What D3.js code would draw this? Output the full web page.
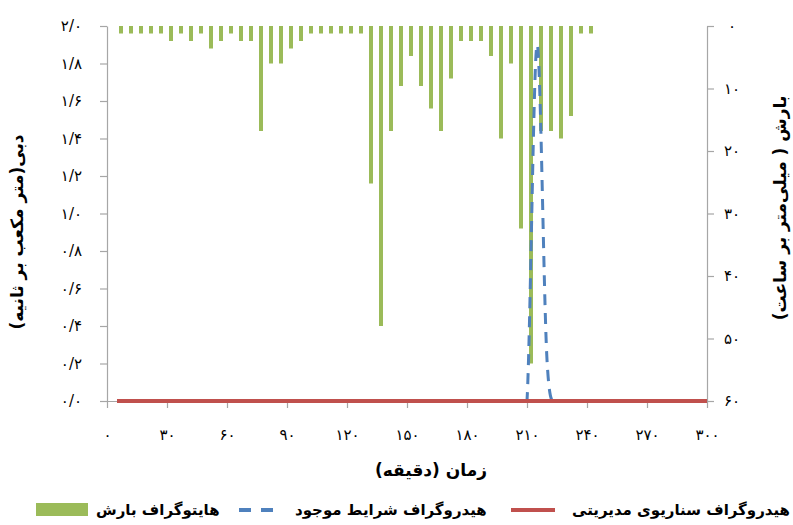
<!DOCTYPE html>
<html>
<head>
<meta charset="utf-8">
<script src="https://cdn.jsdelivr.net/npm/d3@7"></script>
<style>
  html, body { margin: 0; padding: 0; background: #fff; }
  svg { display: block; }
  text { font-family: "DejaVu Sans", sans-serif; fill: #000; }
</style>
</head>
<body>
<svg id="chart" width="793" height="525"></svg>
<script>
// Axis ticks
const flowTicks = [0, 0.2, 0.4, 0.6, 0.8, 1.0, 1.2, 1.4, 1.6, 1.8, 2.0];
const rainTicks = [0, 10, 20, 30, 40, 50, 60];
const timeTicks = [0, 30, 60, 90, 120, 150, 180, 210, 240, 270, 300];

// Rainfall hyetograph (minutes, mm/h)
const rainTime = [7, 12, 17, 22, 27, 32, 37, 42, 47, 52, 57, 62, 67, 72, 77, 82,
  87, 92, 97, 102, 107, 112, 117, 122, 127, 132, 137, 142, 147, 152, 157, 162,
  167, 172, 177, 182, 187, 192, 197, 202, 207, 212, 217, 222, 227, 232, 237, 242];
const rainIntensity = [1.2, 1.2, 1.2, 1.2, 1.2, 2.4, 1.2, 2.4, 1.2, 3.6, 2.4, 1.2,
  2.4, 2.4, 16.8, 6.0, 6.0, 3.6, 2.4, 1.2, 1.2, 1.2, 1.2, 1.2, 1.2, 25.2, 48.0, 16.8,
  9.6, 4.8, 9.6, 13.2, 16.8, 8.4, 2.4, 2.4, 2.4, 4.8, 18.0, 6.0, 32.4, 54.0, 16.8,
  16.8, 18.0, 14.4, 1.2, 1.2];

// Hydrographs (minutes, m3/s)
const hydroTime = [5, 195, 200, 205, 210, 215, 220, 225, 230, 235, 300];
const currentFlow = [0, 0, 0, 0, 0, 1.9, 0.22, 0, 0, 0, 0];
const managedFlow = [0, 0, 0, 0, 0, 0, 0, 0, 0, 0, 0];

// Labels
const legendLabels = ["هایتوگراف بارش", "هیدروگراف شرایط موجود", "هیدروگراف سناریوی مدیریتی"];
const xTitle = "زمان (دقیقه)";
const flowTitle = "دبی(متر مکعب بر ثانیه)";
const rainTitle = "بارش ( میلی‌متر بر ساعت)";

const colors = { rain: "#9bbb59", current: "#4f81bd", managed: "#c0504d", axis: "#a6a6a6" };

const faDigits = "۰۱۲۳۴۵۶۷۸۹";
const fa = s => String(s).replace(/\d/g, d => faDigits[+d]);
const fmtFlow = v => fa(d3.format(".1f")(v).replace(".", "/"));

const svg = d3.select("#chart");
const plot = { left: 107, right: 707, top: 26, bottom: 401 };

const x = d3.scaleLinear().domain([0, 300]).range([plot.left, plot.right]);
const yFlow = d3.scaleLinear().domain([0, 2]).range([plot.bottom, plot.top]);
const yRain = d3.scaleLinear().domain([0, 60]).range([plot.top, plot.bottom]);

svg.append("defs").append("clipPath").attr("id", "plotClip")
  .append("rect")
  .attr("x", plot.left).attr("y", plot.top - 20)
  .attr("width", plot.right - plot.left).attr("height", plot.bottom - plot.top + 21);

// Axes
function styleAxis(g) {
  g.selectAll("path.domain").attr("stroke", colors.axis).attr("stroke-width", 1.2);
  g.selectAll(".tick line").attr("stroke", colors.axis).attr("stroke-width", 1.2);
  g.selectAll(".tick text").attr("font-family", "DejaVu Sans").attr("font-size", 15).attr("fill", "#000");
}

const gLeft = svg.append("g").attr("transform", `translate(${plot.left},0)`)
  .call(d3.axisLeft(yFlow).tickValues(flowTicks).tickSize(7).tickSizeOuter(0)
    .tickPadding(18).tickFormat(fmtFlow));
styleAxis(gLeft);

const gRight = svg.append("g").attr("transform", `translate(${plot.right},0)`)
  .call(d3.axisRight(yRain).tickValues(rainTicks).tickSize(7).tickSizeOuter(0)
    .tickFormat(d => fa(d)));
styleAxis(gRight);
gRight.selectAll(".tick text").attr("x", 25).attr("text-anchor", "middle");

const gBottom = svg.append("g").attr("transform", `translate(0,${plot.bottom})`)
  .call(d3.axisBottom(x).tickValues(timeTicks).tickSize(7).tickSizeOuter(0)
    .tickFormat(d => fa(d)));
styleAxis(gBottom);
gBottom.selectAll(".tick text").attr("y", 34).attr("dy", "0.35em");

// Hyetograph bars hanging from the top
svg.append("g").selectAll("rect")
  .data(rainTime.map((t, i) => ({ t, v: rainIntensity[i] })))
  .join("rect")
  .attr("x", d => x(d.t) - 2)
  .attr("y", yRain(0))
  .attr("width", 4)
  .attr("height", d => yRain(d.v) - yRain(0))
  .attr("fill", colors.rain);

// Hydrographs
const current = hydroTime.map((t, i) => [t, currentFlow[i]]);
const managed = hydroTime.map((t, i) => [t, managedFlow[i]]);

svg.append("path")
  .datum(current)
  .attr("clip-path", "url(#plotClip)")
  .attr("d", d3.line().x(d => x(d[0])).y(d => yFlow(d[1])).curve(d3.curveCatmullRom.alpha(0)))
  .attr("fill", "none")
  .attr("stroke", colors.current)
  .attr("stroke-width", 3)
  .attr("stroke-dasharray", "11,8");

svg.append("path")
  .datum(managed)
  .attr("d", d3.line().x(d => x(d[0])).y(d => yFlow(d[1])))
  .attr("fill", "none")
  .attr("stroke", colors.managed)
  .attr("stroke-width", 4);

// Axis titles
svg.append("text")
  .attr("transform", "translate(23,232) rotate(-90)")
  .attr("text-anchor", "middle").attr("direction", "rtl")
  .attr("font-size", 17).attr("font-weight", "bold")
  .text(flowTitle);

svg.append("text")
  .attr("transform", "translate(786,208) rotate(-90)")
  .attr("text-anchor", "middle").attr("direction", "rtl")
  .attr("font-size", 17).attr("font-weight", "bold")
  .text(rainTitle);

svg.append("text")
  .attr("x", 431).attr("y", 476)
  .attr("text-anchor", "middle").attr("direction", "rtl")
  .attr("font-size", 17).attr("font-weight", "bold")
  .text(xTitle);

// Legend
const lg = svg.append("g").attr("font-size", 15).attr("font-weight", "bold");
lg.append("rect").attr("x", 36).attr("y", 503).attr("width", 52).attr("height", 13).attr("fill", colors.rain);
lg.append("text").attr("x", 96).attr("y", 515).text(legendLabels[0]);
lg.append("line").attr("x1", 239).attr("x2", 283).attr("y1", 510).attr("y2", 510)
  .attr("stroke", colors.current).attr("stroke-width", 4).attr("stroke-dasharray", "12,10");
lg.append("text").attr("x", 295).attr("y", 515).text(legendLabels[1]);
lg.append("line").attr("x1", 511).attr("x2", 555).attr("y1", 510).attr("y2", 510)
  .attr("stroke", colors.managed).attr("stroke-width", 4);
lg.append("text").attr("x", 572).attr("y", 515).text(legendLabels[2]);
</script>
</body>
</html>
